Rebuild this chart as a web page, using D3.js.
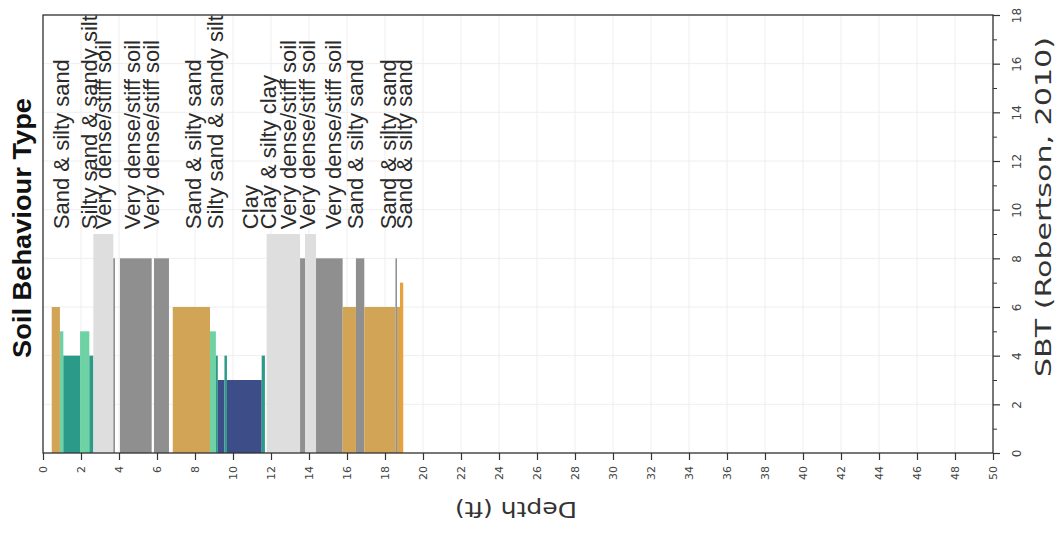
<!DOCTYPE html>
<html>
<head>
<meta charset="utf-8">
<script src="https://cdn.jsdelivr.net/npm/d3@7"></script>
<style>
  html, body { margin: 0; padding: 0; background: #fff; }
  svg { display: block; }
</style>
</head>
<body>
<svg id="chart" width="1056" height="534"></svg>
<script>
// ---- data ----
const segStart = [0.46, 0.89, 1.07, 1.95, 2.44, 2.65, 3.70, 4.05, 5.84, 6.83, 8.79, 9.10, 9.20, 9.55, 9.68, 11.51, 11.77, 13.53, 13.79, 14.37, 15.77, 16.47, 16.91, 18.55, 18.63, 18.79];
const segEnd   = [0.89, 1.07, 1.95, 2.44, 2.65, 3.70, 3.79, 5.72, 6.63, 8.79, 9.10, 9.20, 9.55, 9.68, 11.51, 11.68, 13.53, 13.79, 14.37, 15.77, 16.47, 16.91, 18.55, 18.63, 18.79, 18.96];
const segZone  = [6, 5, 4, 5, 4, 9, 8, 8, 8, 6, 5, 4, 3, 4, 3, 4, 9, 8, 9, 8, 6, 8, 6, 8, 6, 7];

const labelDepth = [0.97, 2.42, 3.16, 4.71, 5.68, 7.89, 9.05, 10.89, 11.84, 12.9, 13.92, 15.26, 16.42, 18.16, 19.0];
const labelText = [
  "Sand & silty sand", "Silty sand & sandy silt", "Very dense/stiff soil",
  "Very dense/stiff soil", "Very dense/stiff soil", "Sand & silty sand",
  "Silty sand & sandy silt", "Clay", "Clay & silty clay",
  "Very dense/stiff soil", "Very dense/stiff soil", "Very dense/stiff soil",
  "Sand & silty sand", "Sand & silty sand", "Sand & silty sand"
];
const labelLevel = 9.2;

const zoneIds    = [3, 4, 5, 6, 7, 8, 9];
const zoneColors = ["#3c4d88", "#2c9a89", "#6fd2a5", "#d2a455", "#e6a23e", "#8f8f8f", "#dedede"];

const depthTicks = [0,2,4,6,8,10,12,14,16,18,20,22,24,26,28,30,32,34,36,38,40,42,44,46,48,50];
const sbtTicks   = [0,2,4,6,8,10,12,14,16,18];
const sbtMinor   = [1,3,5,7,9,11,13,15,17];

const titleText  = "Soil Behaviour Type";
const xLabelText = "Depth (ft)";
const yLabelText = "SBT (Robertson, 2010)";

// ---- layout ----
const L = 43, R = 993, T = 15, B = 453;
const svg = d3.select("#chart");

const x = d3.scaleLinear().domain([0, 50]).range([L, R]);
const y = d3.scaleLinear().domain([0, 18]).range([B, T]);
const color = d3.scaleOrdinal().domain(zoneIds).range(zoneColors);

// grid
const grid = svg.append("g");
grid.selectAll("line.vx").data(depthTicks).join("line")
  .attr("x1", d => x(d)).attr("x2", d => x(d))
  .attr("y1", T).attr("y2", B)
  .attr("stroke", "#eeeeee").attr("stroke-width", 1);
grid.selectAll("line.hy").data(sbtTicks).join("line")
  .attr("x1", L).attr("x2", R)
  .attr("y1", d => y(d)).attr("y2", d => y(d))
  .attr("stroke", "#eeeeee").attr("stroke-width", 1);

// bars
const segs = segStart.map((s, i) => ({ s, e: segEnd[i], z: segZone[i] }));
svg.append("g").selectAll("rect").data(segs).join("rect")
  .attr("x", d => x(d.s))
  .attr("width", d => x(d.e) - x(d.s))
  .attr("y", d => y(d.z))
  .attr("height", d => y(0) - y(d.z))
  .attr("fill", d => color(d.z));

// bar labels
svg.append("g").selectAll("text").data(labelText).join("text")
  .attr("transform", (d, i) => `translate(${x(labelDepth[i])},${y(labelLevel)}) rotate(-90)`)
  .attr("dy", "0.35em")
  .attr("text-anchor", "start")
  .attr("font-family", "'Liberation Sans', Arial, sans-serif")
  .attr("font-size", 22)
  .attr("fill", "#2a2a2a")
  .text(d => d);

// bottom axis (depth)
const xAxis = svg.append("g")
  .attr("transform", `translate(0,${B})`)
  .call(d3.axisBottom(x).tickValues(depthTicks).tickSize(7).tickSizeOuter(0));
xAxis.select(".domain").remove();
xAxis.selectAll(".tick line").attr("stroke", "#333").attr("stroke-width", 1.2);
xAxis.selectAll(".tick text")
  .attr("transform", "rotate(-90)")
  .attr("x", -13).attr("y", 0).attr("dy", "0.35em")
  .attr("text-anchor", "end")
  .attr("font-family", "'DejaVu Sans', sans-serif")
  .attr("font-size", 11)
  .attr("fill", "#444");

// right axis (SBT)
const yAxis = svg.append("g")
  .attr("transform", `translate(${R},0)`)
  .call(d3.axisRight(y).tickValues(sbtTicks).tickSize(7).tickSizeOuter(0));
yAxis.select(".domain").remove();
yAxis.selectAll(".tick line").attr("stroke", "#333").attr("stroke-width", 1.2);
yAxis.selectAll(".tick text")
  .attr("transform", "rotate(-90)")
  .attr("x", 0).attr("y", 24).attr("dy", "0.35em")
  .attr("text-anchor", "middle")
  .attr("font-family", "'DejaVu Sans', sans-serif")
  .attr("font-size", 12)
  .attr("fill", "#444");

const yMinor = svg.append("g")
  .attr("transform", `translate(${R},0)`)
  .call(d3.axisRight(y).tickValues(sbtMinor).tickSize(4).tickSizeOuter(0).tickFormat(""));
yMinor.select(".domain").remove();
yMinor.selectAll(".tick line").attr("stroke", "#333").attr("stroke-width", 1);

// spines
svg.append("rect")
  .attr("x", L).attr("y", T).attr("width", R - L).attr("height", B - T)
  .attr("fill", "none").attr("stroke", "#333").attr("stroke-width", 1.3);

// title
svg.append("text")
  .attr("transform", `translate(22,358) rotate(-90)`)
  .attr("dy", "0.35em")
  .attr("text-anchor", "start")
  .attr("textLength", 260)
  .attr("lengthAdjust", "spacingAndGlyphs")
  .attr("font-family", "'Liberation Sans', Arial, sans-serif")
  .attr("font-weight", "bold")
  .attr("font-size", 25)
  .attr("fill", "#111")
  .text(titleText);

// depth label (upside down)
svg.append("text")
  .attr("transform", `translate(577,502) rotate(180)`)
  .attr("text-anchor", "start")
  .attr("textLength", 122)
  .attr("lengthAdjust", "spacingAndGlyphs")
  .attr("font-family", "'DejaVu Sans', sans-serif")
  .attr("font-size", 21)
  .attr("fill", "#333")
  .text(xLabelText);

// SBT label
svg.append("text")
  .attr("transform", `translate(1043,377) rotate(-90)`)
  .attr("dy", "0.35em")
  .attr("text-anchor", "start")
  .attr("textLength", 340)
  .attr("lengthAdjust", "spacingAndGlyphs")
  .attr("font-family", "'DejaVu Sans', sans-serif")
  .attr("font-size", 22)
  .attr("fill", "#333")
  .text(yLabelText);
</script>
</body>
</html>
